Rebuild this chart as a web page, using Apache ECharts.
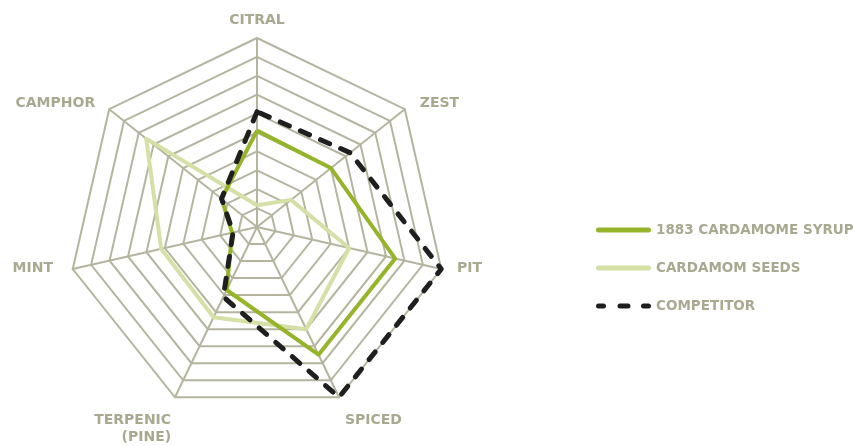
<!DOCTYPE html>
<html>
<head>
<meta charset="utf-8">
<style>
  html, body { margin: 0; padding: 0; background: #ffffff; }
  #chart { width: 854px; height: 446px; }
</style>
<script src="https://cdn.jsdelivr.net/npm/echarts@6/dist/echarts.min.js"></script>
</head>
<body>
<div id="chart"></div>
<script>
// Axes listed clockwise from the top, as in the picture
var axisNames = ['CITRAL', 'ZEST', 'PIT', 'SPICED', 'TERPENIC\n(PINE)', 'MINT', 'CAMPHOR'];
var axisMax = 10;
var seriesNames = ['1883 CARDAMOME SYRUP', 'CARDAMOM SEEDS', 'COMPETITOR'];
var syrupValues = [5.1, 5.0, 7.5, 7.5, 3.7, 1.35, 2.4];
var seedsValues = [1.15, 2.3, 5.0, 6.0, 5.3, 5.2, 7.5];
var competitorValues = [6.1, 6.3, 10, 10, 4.1, 1.3, 2.4];

// ECharts places radar indicators counter-clockwise; reorder so they appear clockwise
var order = [0, 6, 5, 4, 3, 2, 1];
function reorder(arr) { return order.map(function (i) { return arr[i]; }); }

var labelColor = '#a9a991';
var gridColor = '#b5b59f';
var font = 'DejaVu Sans';

// per-label rich style keys (visual nudges only)
var nameStyleKey = {
  'CITRAL': 'c', 'ZEST': 'z', 'PIT': 'p', 'SPICED': 's', 'MINT': 'm', 'CAMPHOR': 'k'
};
function baseRich(pad) {
  return { color: labelColor, fontFamily: font, fontSize: 14, fontWeight: 'bold', lineHeight: 17, padding: pad };
}

var chart = echarts.init(document.getElementById('chart'), null, { renderer: 'canvas' });
chart.setOption({
  animation: false,
  backgroundColor: '#ffffff',
  legend: {
    orient: 'vertical',
    left: 591,
    top: 218,
    itemWidth: 55,
    itemHeight: 5,
    itemGap: 24,
    textStyle: { color: labelColor, fontFamily: font, fontSize: 13.5, fontWeight: 'bold' },
    data: [
      { name: seriesNames[0], icon: 'path://M2.5,0 H52.5 A2.5,2.5 0 0 1 52.5,5 H2.5 A2.5,2.5 0 0 1 2.5,0 Z' },
      { name: seriesNames[1], icon: 'path://M2.5,0 H52.5 A2.5,2.5 0 0 1 52.5,5 H2.5 A2.5,2.5 0 0 1 2.5,0 Z' },
      { name: seriesNames[2], icon: 'path://M2.5,0 H7.5 A2.5,2.5 0 0 1 7.5,5 H2.5 A2.5,2.5 0 0 1 2.5,0 Z M24,0 H32 A2.5,2.5 0 0 1 32,5 H24 A2.5,2.5 0 0 1 24,0 Z M47.5,0 H52.5 A2.5,2.5 0 0 1 52.5,5 H47.5 A2.5,2.5 0 0 1 47.5,0 Z' }
    ]
  },
  radar: {
    center: [257, 227],
    radius: 189,
    splitNumber: 10,
    shape: 'polygon',
    indicator: reorder(axisNames).map(function (n) { return { name: n, max: axisMax, min: 0 }; }),
    nameGap: 9,
    axisName: {
      color: labelColor,
      fontFamily: font,
      fontSize: 14,
      fontWeight: 'bold',
      lineHeight: 17,
      formatter: function (name) {
        if (name.indexOf('\n') >= 0) {
          var parts = name.split('\n');
          return '{e|}\n{t|' + parts[0] + '}\n{t|' + parts[1] + '}';
        }
        return '{' + nameStyleKey[name] + '|' + name + '}';
      },
      rich: {
        c: baseRich([0, 0, 0, 0]),
        z: baseRich([0, 0, 0, 8]),
        p: baseRich([0, 0, 6, 7]),
        s: baseRich([30, 0, 0, 2]),
        m: baseRich([0, 11, 6, 0]),
        k: baseRich([0, 7, 0, 0]),
        e: { fontSize: 1, lineHeight: 47, padding: 0 },
        t: baseRich([0, 0, 0, 0])
      }
    },
    splitLine: { lineStyle: { color: gridColor, width: 2 } },
    splitArea: { show: false },
    axisLine: { lineStyle: { color: gridColor, width: 2 } },
    axisTick: { show: false },
    axisLabel: { show: false }
  },
  series: [{
    type: 'radar',
    symbol: 'none',
    data: [
      {
        name: seriesNames[1],
        value: reorder(seedsValues),
        lineStyle: { color: '#d4e0a6', width: 4, join: 'round' },
        itemStyle: { color: '#d4e0a6' }
      },
      {
        name: seriesNames[0],
        value: reorder(syrupValues),
        lineStyle: { color: '#95b42a', width: 4, join: 'round' },
        itemStyle: { color: '#95b42a' }
      },
      {
        name: seriesNames[2],
        value: reorder(competitorValues),
        lineStyle: { color: '#1f1f1f', width: 5, type: [10, 12], cap: 'round', join: 'round' },
        itemStyle: { color: '#1f1f1f' }
      }
    ]
  }]
});
</script>
</body>
</html>
